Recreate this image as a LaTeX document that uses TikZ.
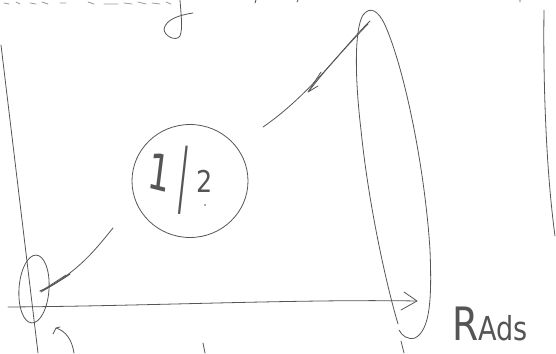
\documentclass[tikz,border=0pt]{standalone}
\usepackage{fontspec}
\setmainfont{DejaVu Sans}
\usetikzlibrary{shapes.geometric}
\definecolor{penc}{HTML}{555555}
\begin{document}
\begin{tikzpicture}[x=1pt,y=-1pt,
  pen/.style={draw=penc, line width=0.8pt, line cap=round, line join=round},
  hand/.style={text=penc, inner sep=0pt, font=\fontsize{#1}{#1}\selectfont},
  hand/.default=30]
\useasboundingbox (0,0) rectangle (556,353);

% top cut-off handwriting fragments
\draw[pen, draw=penc!60] (4,3) -- (9,4) (16,2) -- (20,4) (30,3) -- (36,4) (42,2) -- (48,4)
  (60,3) -- (66,3) (88,2) -- (94,4) (104,4) -- (118,4) (124,3) -- (132,4)
  (138,2) -- (146,4) (152,3) -- (160,4) (166,2) -- (171,4);
\draw[pen] (180,0) .. controls (181,15) and (183,28) .. (180,36)
  .. controls (176,42) and (164,36) .. (164,29)
  .. controls (166,19) and (180,15) .. (193,13);
\draw[pen] (256,0) -- (255,3) (298,0) -- (297,2) (520,0) -- (520,2);

% axes
\coordinate (ytop) at (1,45);
\coordinate (ybot) at (38,353);
\draw[pen] (ytop) -- (ybot);
\coordinate (xo) at (8,307);
\coordinate (xe) at (417,301);
\draw[pen] (xo) .. controls (150,306) and (300,299) .. (xe);
\draw[pen] (404,292) -- (417,301) -- (401,310);
\node[hand=46, anchor=base west, xscale=0.82] (rads) at (452,340) {R\fontsize{33}{33}\selectfont Ads};

% right edge line
\coordinate (rtop) at (544,10);
\coordinate (rbot) at (555,236);
\draw[pen] (rtop) .. controls (543,80) and (546,170) .. (rbot);

% small ellipse at origin
\node[pen, ellipse, minimum width=30pt, minimum height=68pt, inner sep=0pt, rotate=-4] (small) at (34,289) {};

% big loop
\draw[pen] (398,324) .. controls (385,280) and (368,200) .. (361,130)
  .. controls (355,80) and (354,30) .. (363,15)
  .. controls (370,6) and (378,10) .. (385,25)
  .. controls (405,70) and (425,170) .. (430,250)
  .. controls (432,300) and (430,330) .. (415,338)
  .. controls (408,340) and (402,336) .. (399,330);
\coordinate (looptop) at (370,21);

% circle with 1/2
\node[pen, ellipse, minimum width=116pt, minimum height=113pt] (half) at (190,181) {};
\node[hand=50, xscale=0.7, rotate=-10] (one) at (160,172) {1};
\node[hand=84, xscale=0.32, rotate=-2] (slash) at (183,180) {/};
\node[hand=30, xscale=0.85] (two) at (205,181) {2};
\fill[penc] (205,205) circle (0.9pt);

% arrow from big loop toward the circle
\coordinate (ta) at (263,127);
\draw[pen] (looptop) .. controls (345,45) and (310,95) .. (ta);
\draw[pen] (368,24) .. controls (345,48) and (325,70) .. (309,91);
\draw[pen] (321,72) -- (308,92) -- (318,86);

% arrow from circle toward small ellipse
\coordinate (tb) at (113,228);
\coordinate (tbe) at (41,292);
\draw[pen] (tb) .. controls (95,250) and (80,270) .. (tbe);
\draw[pen, line width=1.2pt] (70,274) .. controls (58,282) and (48,288) .. (40,291);
\draw[pen] (66,275) -- (43,290);

% small hook arrow under origin
\draw[pen] (74,353) .. controls (72,340) and (66,331) .. (56,328)
  .. controls (55,330) and (54,332) .. (53,334);
\draw[pen] (56,328) -- (60,327);

% small ticks at bottom
\draw[pen] (203,343) -- (205,353);
\draw[pen] (401,341) -- (404,353);
\end{tikzpicture}
\end{document}
